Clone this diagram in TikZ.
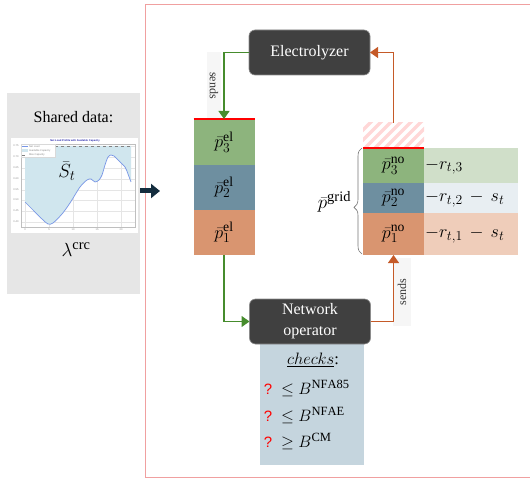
\documentclass[tikz,border=0pt]{standalone}
\usepackage{fix-cm}
\usepackage{fontspec}
\setmainfont{Liberation Serif}
\setsansfont{Liberation Sans}
\usetikzlibrary{arrows.meta,decorations.pathreplacing}
\def\defaultscriptratio{.76}
\definecolor{cgreen}{RGB}{141,180,125}
\definecolor{cblue}{RGB}{110,143,160}
\definecolor{corange}{RGB}{217,149,112}
\definecolor{lgreen}{RGB}{208,223,201}
\definecolor{lblue}{RGB}{232,238,242}
\definecolor{lorange}{RGB}{239,205,186}
\definecolor{darkbox}{RGB}{64,64,64}
\definecolor{checkbg}{RGB}{197,213,222}
\definecolor{panelgray}{RGB}{230,230,230}
\definecolor{navy}{RGB}{20,45,62}
\definecolor{framepink}{RGB}{240,160,160}
\definecolor{glinec}{RGB}{70,140,45}
\definecolor{olinec}{RGB}{197,90,40}
\definecolor{stripgray}{RGB}{246,246,246}
\definecolor{hatchc}{RGB}{255,215,215}
\definecolor{plotfill}{RGB}{208,230,238}
\definecolor{plotline}{RGB}{120,150,230}
\definecolor{titleblue}{RGB}{40,40,170}
\newcommand\dgtext{\fontsize{16}{18}\selectfont}
\newcommand\dgmath{\fontsize{18}{20}\selectfont}
\newcommand\dgmathb{\fontsize{19}{21}\selectfont}
\newcommand\dgchk{\fontsize{16.5}{18}\selectfont}
\newcommand\dgsmall{\fontsize{12}{14}\selectfont}
\newcommand\dgtiny{\sffamily\fontsize{2.6}{3}\selectfont}
\begin{document}
\begin{tikzpicture}[x=1pt,y=-1pt,
  every node/.style={inner sep=0pt, outer sep=0pt},
  seg/.style={minimum width=61pt, inner sep=0pt, outer sep=0pt, font=\dgmath},
  extcell/.style={minimum width=94pt, inner sep=0pt, outer sep=0pt, anchor=west},
  dbox/.style={fill=darkbox, draw=black!45, line width=0.6pt, rounded corners=6pt, text=white, font=\dgtext, minimum width=121pt, minimum height=45pt, align=center},
  sendsstrip/.style={fill=stripgray, font=\dgsmall, text=black!80},
  gconn/.style={draw=glinec, line width=1.1pt, -{Triangle[length=8pt,width=11pt]}},
  oconn/.style={draw=olinec, line width=1.1pt, -{Triangle[length=8pt,width=11pt]}},
  redtop/.style={red, line width=1.2pt},
  tinylabel/.style={font=\dgtiny, text=black!45},
  qmark/.style={font=\sffamily\fontsize{15}{17}\selectfont, text=red}]
\useasboundingbox (0,0) rectangle (530,481);
% frame
\draw[framepink, line width=0.8pt] (540,4) -- (145,4) -- (145,477) -- (540,477);
% shared data panel
\fill[panelgray] (7,93) rectangle (140,294);
\node[font=\dgtext] (shared) at (73.5,117) {Shared data:};
% chart
\node[fill=white, minimum width=127pt, minimum height=95pt] (chart) at (74.5,185.5) {};
\node[font=\dgtiny\bfseries, text=titleblue] (ctitle) at (75,141) {Net Load Profile with Available Capacity};
\foreach \gx in {25,49,73,97,121} \draw[black!10, line width=0.25pt] (\gx,146) -- (\gx,227);
\foreach \gy in {146,157,168,179,190,200,211,222} \draw[black!10, line width=0.25pt] (21,\gy) -- (135,\gy);
\draw[black!25, line width=0.25pt] (21,144) rectangle (135,227);
\fill[plotfill] (25,146) -- plot[smooth] coordinates {(25,202) (33,210) (42,219) (48,224) (53,223) (62,214) (70,203) (80,187) (87,180) (91,179) (95,182) (99,180) (102,175) (105,165) (108,157) (111,155) (114,156) (118,160) (125,167) (128,174) (131,182)} -- (131,146) -- cycle;
\draw[plotline, line width=0.7pt] plot[smooth] coordinates {(25,202) (33,210) (42,219) (48,224) (53,223) (62,214) (70,203) (80,187) (87,180) (91,179) (95,182) (99,180) (102,175) (105,165) (108,157) (111,155) (114,156) (118,160) (125,167) (128,174) (131,182)};
\draw[black!50, dashed, line width=0.35pt] (25,146) -- (131,146);
\foreach \gx/\gl in {25/0,49/5,73/10,97/15,121/20} \node[tinylabel] at (\gx,230) {\gl};
\foreach \gy/\gl in {146/0.75,157/0.70,168/0.65,179/0.60,190/0.55,200/0.50,211/0.45,222/0.40} \node[tinylabel] at (16,\gy) {\gl};
\draw[black!15, fill=white, line width=0.2pt] (21,144.5) rectangle (55,157.5);
\draw[plotline, line width=0.5pt] (22,146.5) -- (28,146.5);
\fill[plotfill] (22,149.5) rectangle (28,152);
\draw[black!50, dashed, line width=0.3pt] (22,155) -- (28,155);
\node[tinylabel, anchor=west] at (29,146.5) {Net Load};
\node[tinylabel, anchor=west] at (29,150.8) {Available Capacity};
\node[tinylabel, anchor=west] at (29,155) {Max Capacity};
\node[font=\dgmathb] (sbar) at (67,171) {$\bar{S}_t$};
\node[font=\dgmathb] (lam) at (76,250) {$\lambda^{\mathrm{crc}}$};
% navy arrow
\coordinate (navyA) at (140,191);
\coordinate (navyB) at (160,191);
\draw[navy, line width=5pt, -{Triangle[length=9pt,width=14pt]}] (navyA) -- (navyB);
% sends strips
\node[sendsstrip, rotate=-90, minimum width=67pt, minimum height=14pt] (sendsA) at (214,85.5) {sends};
\node[sendsstrip, rotate=90, minimum width=68pt, minimum height=18pt] (sendsB) at (402,292) {sends};
% left stack
\node[seg, fill=cgreen, minimum height=46pt] (el3) at (224,142) {$\bar{p}^{\mathrm{el}}_3$};
\node[seg, fill=cblue, minimum height=45pt] (el2) at (224,187.5) {$\bar{p}^{\mathrm{el}}_2$};
\node[seg, fill=corange, minimum height=45pt] (el1) at (224,232.5) {$\bar{p}^{\mathrm{el}}_1$};
\draw[redtop] (el3.north west) -- (el3.north east);
% right stack
\begin{scope}
\clip (363,123) rectangle (424,148);
\foreach \i in {-40,-30,...,70} \draw[hatchc, line width=3.5pt] ({363+\i},150) -- ++(30,-30);
\end{scope}
\node[minimum width=61pt, minimum height=25pt] (hatch) at (393.5,135.5) {};
\node[seg, fill=cgreen, minimum height=35pt] (no3) at (393.5,165.5) {$\bar{p}^{\mathrm{no}}_3$};
\node[seg, fill=cblue, minimum height=30pt] (no2) at (393.5,198) {$\bar{p}^{\mathrm{no}}_2$};
\node[seg, fill=corange, minimum height=42pt] (no1) at (393.5,234) {$\bar{p}^{\mathrm{no}}_1$};
\draw[redtop] (no3.north west) -- (no3.north east);
\node[extcell, fill=lgreen, minimum height=35pt] (e3) at (no3.east) {};
\node[extcell, fill=lblue, minimum height=30pt] (e2) at (no2.east) {};
\node[extcell, fill=lorange, minimum height=42pt] (e1) at (no1.east) {};
\node[anchor=west, font=\dgmath] (r3) at ([xshift=1pt,yshift=-1pt]e3.west) {$-r_{t,3}$};
\node[anchor=west, font=\dgmath] (r2) at ([xshift=1pt,yshift=-1pt]e2.west) {$-r_{t,2}\,-\,s_t$};
\node[anchor=west, font=\dgmath] (r1) at ([xshift=1pt,yshift=-1pt]e1.west) {$-r_{t,1}\,-\,s_t$};
% brace
\draw[black!55, line width=0.6pt, decorate, decoration={brace, amplitude=8pt, aspect=0.44}] (no1.south west) ++(-1,-1) coordinate (brB) -- ([xshift=-1pt]no3.north west) coordinate (brT);
\node[font=\dgmathb, anchor=east] (pgrid) at (351,202) {$\bar{p}^{\mathrm{grid}}$};
% boxes
\node[fill=checkbg, minimum width=104pt, minimum height=121pt] (chk) at (312,404.5) {};
\node[dbox] (elec) at (309.5,52.5) {Electrolyzer};
\node[dbox, font=\fontsize{16}{21}\selectfont] (netop) at (310,321.5) {Network\\operator};
% checks
\node[font=\dgchk] (chkt) at (313,360) {$\underline{checks}$:};
\node[qmark] (q1) at (268,389) {?};
\node[qmark] (q2) at (268,416) {?};
\node[qmark] (q3) at (268,442) {?};
\node[font=\dgchk, anchor=west] (c1) at (281,388) {$\le B^{\mathrm{NFA85}}$};
\node[font=\dgchk, anchor=west] (c2) at (281,415) {$\le B^{\mathrm{NFAE}}$};
\node[font=\dgchk, anchor=west] (c3) at (281,441) {$\ge B^{\mathrm{CM}}$};
% connectors
\draw[gconn] (elec.west) -| (el3.north);
\draw[gconn] (el1.south) |- (netop.west);
\draw[oconn] (netop.east) -| (no1.south);
\draw[oconn] (hatch.north) |- (elec.east);
\end{tikzpicture}
\end{document}
